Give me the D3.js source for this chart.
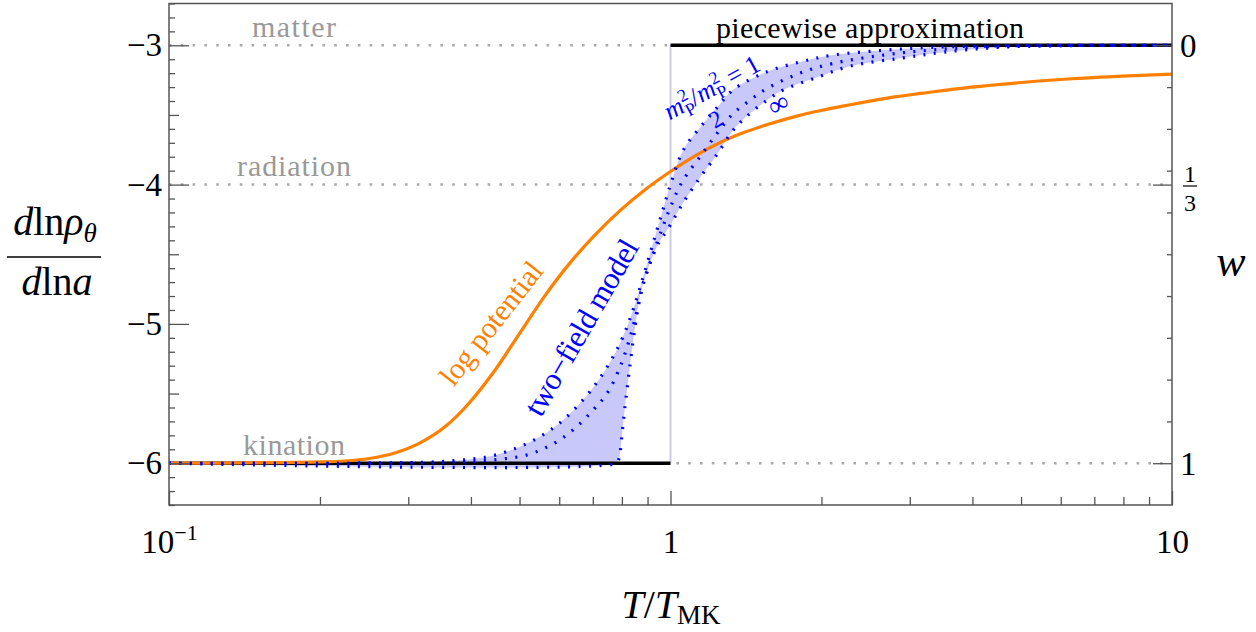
<!DOCTYPE html>
<html><head><meta charset="utf-8">
<script src="https://cdn.jsdelivr.net/npm/d3@7"></script>
</head><body style="margin:0;background:#fff">
<svg id="c" width="1256" height="632" style="display:block"></svg>
<script>
// ---------- data ----------
const refLevels = [-3, -4, -6];
const refNames  = ["matter", "radiation", "kination"];

const orangeT = [0.1, 0.126, 0.158, 0.2, 0.224, 0.251, 0.282, 0.316, 0.355, 0.398, 0.447, 0.501, 0.562, 0.631, 0.708, 0.794, 0.891, 1, 1.122, 1.259, 1.413, 1.585, 1.778, 1.995, 2.239, 2.512, 2.818, 3.162, 3.981, 5.012, 6.31, 7.943, 10];
const orangeV = [-6.0, -5.999, -5.996, -5.991, -5.984, -5.966, -5.927, -5.856, -5.739, -5.562, -5.331, -5.064, -4.797, -4.56, -4.359, -4.185, -4.035, -3.906, -3.792, -3.696, -3.621, -3.561, -3.51, -3.468, -3.432, -3.399, -3.369, -3.345, -3.3, -3.267, -3.24, -3.222, -3.207];

const m1T = [0.1, 0.3, 0.376, 0.437, 0.494, 0.549, 0.602, 0.66, 0.723, 0.793, 0.842, 0.882, 0.923, 0.966, 1.0, 1.06, 1.145, 1.24, 1.333, 1.557, 1.812, 2.11, 2.66, 3.3, 4.5, 6, 10];
const m1V = [-6, -5.996, -5.98, -5.95, -5.89, -5.81, -5.71, -5.57, -5.39, -5.14, -4.90, -4.665, -4.42, -4.18, -4.0, -3.754, -3.59, -3.445, -3.32, -3.19, -3.12, -3.07, -3.036, -3.015, -3.004, -3.0, -3.0];

const m2T = [0.1, 0.35, 0.43, 0.518, 0.584, 0.64, 0.70, 0.747, 0.793, 0.83, 0.858, 0.882, 0.923, 0.966, 1.0, 1.055, 1.145, 1.24, 1.333, 1.44, 1.557, 1.812, 2.11, 2.66, 3.3, 4.2, 5.5, 10];
const m2V = [-6, -5.995, -5.98, -5.94, -5.86, -5.76, -5.62, -5.50, -5.31, -5.10, -4.90, -4.72, -4.50, -4.30, -4.16, -3.98, -3.80, -3.63, -3.49, -3.395, -3.31, -3.20, -3.13, -3.07, -3.035, -3.012, -3.003, -3.0];

const mInfT = [0.1, 0.78, 0.787, 0.793, 0.80, 0.81, 0.83, 0.858, 0.877, 0.91, 0.95, 0.984, 1.06, 1.145, 1.24, 1.333, 1.44, 1.557, 1.68, 1.96, 2.28, 2.87, 3.5, 4.5, 6, 10];
const mInfV = [-6, -6, -5.98, -5.93, -5.80, -5.62, -5.30, -4.92, -4.74, -4.565, -4.41, -4.33, -4.13, -3.95, -3.78, -3.61, -3.49, -3.395, -3.32, -3.23, -3.15, -3.093, -3.05, -3.015, -3.003, -3.0];

const pieceT = [0.1, 1, 1, 10];
const pieceV = [-6, -6, -3, -3];

const xMajor = [0.1, 1, 10];
const xMinor = [0.2,0.3,0.4,0.5,0.6,0.7,0.8,0.9,2,3,4,5,6,7,8,9];
const yMajor = [-6, -5, -4, -3];
const wMajor = [0, 1/3, 1];
const wMinor = [0.1,0.2,0.3,0.4,0.5,0.6,0.7,0.8,0.9];

const FONT = '"Liberation Serif"';

// ---------- scales ----------
const L = 169, R = 1172, T0 = 3.5, B = 505;
const x = d3.scaleLog().domain([0.1, 10]).range([L, R]);
const y = d3.scaleLinear().domain([-6.3, -2.7]).range([B, T0]);
const yw = d3.scaleLinear().domain([1.1, -0.1]).range([B, T0]);

const svg = d3.select("#c");
const zip = (a, b) => a.map((t, i) => [t, b[i]]);
const cr = d3.curveCatmullRom.alpha(0.5);
const line = d3.line().x(d => x(d[0])).y(d => y(d[1])).curve(cr);
const lineM = d3.line().x(d => x(d[0])).y(d => y(d[1])).curve(d3.curveMonotoneX);

// ---------- reference dotted lines ----------
svg.append("g").selectAll("line").data(refLevels).join("line")
  .attr("x1", L).attr("x2", R).attr("y1", d => y(d)).attr("y2", d => y(d))
  .attr("stroke", "#aaa").attr("stroke-width", 2.5).attr("stroke-dasharray", "2.6,9.2");

// ---------- band ----------
const m1 = zip(m1T, m1V), m2 = zip(m2T, m2V), mInf = zip(mInfT, mInfV);
const poly = m1.concat(mInf.slice(0, -1).reverse());
svg.append("path").attr("d", line(poly) + "Z")
  .attr("fill", "rgb(200,200,250)").attr("stroke", "none");

// ---------- piecewise ----------
const piece = zip(pieceT, pieceV);
svg.append("line").attr("x1", x(piece[1][0])).attr("x2", x(piece[2][0]))
  .attr("y1", y(piece[1][1])).attr("y2", y(piece[2][1]))
  .attr("stroke", "#cdcde8").attr("stroke-width", 2);
[[piece[0], piece[1]], [piece[2], piece[3]]].forEach(s => {
  svg.append("line").attr("x1", x(s[0][0])).attr("x2", x(s[1][0]))
    .attr("y1", y(s[0][1])).attr("y2", y(s[1][1]))
    .attr("stroke", "#000").attr("stroke-width", 3.5);
});

// ---------- orange ----------
svg.append("path").attr("d", lineM(zip(orangeT, orangeV)))
  .attr("fill", "none").attr("stroke", "#ff8000").attr("stroke-width", 3.2);

// ---------- blue dotted ----------
[m1, m2, mInf].forEach(s => {
  svg.append("path").attr("d", line(s)).attr("fill", "none")
    .attr("stroke", "#0000ff").attr("stroke-width", 3.2)
    .attr("stroke-dasharray", "2,8.5");
});

// ---------- frame + axes ----------
const axStroke = "#555";
svg.append("rect").attr("x", L).attr("y", T0).attr("width", R - L).attr("height", B - T0)
  .attr("fill", "none").attr("stroke", axStroke).attr("stroke-width", 1.5);

function styleAxis(g) {
  g.attr("font-family", null).attr("font-size", null);
  g.select(".domain").remove();
  g.selectAll(".tick line").attr("stroke", axStroke).attr("stroke-width", 1.3);
  g.selectAll(".tick text").attr("fill", "#000");
}

// left
const yHalf = [-5.5, -4.5, -3.5];
const yMinor = d3.range(-63, -26).map(i => i / 10).filter(v => Math.abs(v * 2 - Math.round(v * 2)) > 1e-6);
svg.append("g").attr("transform", `translate(${L},0)`)
  .call(d3.axisLeft(y).tickValues(yMinor).tickSize(-6).tickFormat(""))
  .call(styleAxis);
svg.append("g").attr("transform", `translate(${L},0)`)
  .call(d3.axisLeft(y).tickValues(yHalf).tickSize(-10).tickFormat(""))
  .call(styleAxis);
svg.append("g").attr("transform", `translate(${L},0)`)
  .call(d3.axisLeft(y).tickValues(yMajor).tickSize(-20).tickPadding(7)
    .tickFormat(d => "\u2212" + Math.abs(d)))
  .call(styleAxis)
  .call(g => g.selectAll(".tick text").attr("font-size", 33));

// right (w)
svg.append("g").attr("transform", `translate(${R},0)`)
  .call(d3.axisRight(yw).tickValues(wMinor).tickSize(-5).tickFormat(""))
  .call(styleAxis);
svg.append("g").attr("transform", `translate(${R},0)`)
  .call(d3.axisRight(yw).tickValues(wMajor).tickSize(-19).tickFormat(""))
  .call(styleAxis);

// bottom
svg.append("g").attr("transform", `translate(0,${B})`)
  .call(d3.axisBottom(x).tickValues(xMinor).tickSize(-8).tickFormat(""))
  .call(styleAxis);
svg.append("g").attr("transform", `translate(0,${B})`)
  .call(d3.axisBottom(x).tickValues(xMajor).tickSize(-14).tickPadding(25)
    .tickFormat(d => d === 0.1 ? "" : String(d)))
  .call(styleAxis)
  .call(g => g.selectAll(".tick text").attr("font-size", 33).each(function(d) {
    if (d === 0.1) {
      const t = d3.select(this);
      t.append("tspan").text("10");
      t.append("tspan").attr("dy", -13).attr("font-size", 22).text("\u22121");
    }
  }));

// right tick labels
const rl = svg.append("g").attr("font-size", 33);
rl.append("text").attr("x", R + 8).attr("y", yw(0)).attr("dy", "0.35em").text("0");
rl.append("text").attr("x", R + 8).attr("y", yw(1)).attr("dy", "0.35em").text("1");
rl.append("text").attr("x", 1190).attr("y", 182).attr("font-size", 24).attr("text-anchor", "middle").text("1");
rl.append("line").attr("x1", 1183).attr("x2", 1197).attr("y1", 186).attr("y2", 186).attr("stroke", "#000").attr("stroke-width", 1.2);
rl.append("text").attr("x", 1190).attr("y", 211).attr("font-size", 24).attr("text-anchor", "middle").text("3");

// axis titles
svg.append("text").attr("x", 1231).attr("y", 263).attr("dy", "0.3em")
  .attr("text-anchor", "middle").attr("font-size", 44).attr("font-style", "italic").text("w");

const xt = svg.append("text").attr("x", 671).attr("y", 618).attr("text-anchor", "middle").attr("font-size", 40);
xt.append("tspan").attr("font-style", "italic").text("T");
xt.append("tspan").text("/");
xt.append("tspan").attr("font-style", "italic").text("T");
xt.append("tspan").attr("font-size", 27).attr("dy", 6).text("MK");

const num = svg.append("text").attr("x", 55).attr("y", 235).attr("text-anchor", "middle").attr("font-size", 40);
num.append("tspan").attr("font-style", "italic").text("d");
num.append("tspan").text("ln");
num.append("tspan").attr("font-style", "italic").text("\u03C1");
num.append("tspan").attr("font-style", "italic").attr("font-size", 27).attr("dy", 7).text("\u03B8");
svg.append("line").attr("x1", 7).attr("x2", 101).attr("y1", 257).attr("y2", 257).attr("stroke", "#000").attr("stroke-width", 1.5);
const den = svg.append("text").attr("x", 57).attr("y", 295).attr("text-anchor", "middle").attr("font-size", 40);
den.append("tspan").attr("font-style", "italic").text("d");
den.append("tspan").text("ln");
den.append("tspan").attr("font-style", "italic").text("a");

// reference labels
const refX = [294, 294, 294], refY = [37, 176, 455], refW = [84, 114, 102];
svg.append("g").selectAll("text").data(refNames).join("text")
  .attr("x", (d, i) => refX[i]).attr("y", (d, i) => refY[i])
  .attr("text-anchor", "middle").attr("font-size", 30).attr("fill", "#999")
  .attr("textLength", (d, i) => refW[i]).attr("lengthAdjust", "spacing")
  .text(d => d);

svg.append("text").attr("x", 870).attr("y", 38).attr("text-anchor", "middle")
  .attr("font-size", 30).attr("textLength", 308).attr("lengthAdjust", "spacing")
  .text("piecewise approximation");

// curve labels
svg.append("text").attr("transform", "translate(492,324) rotate(-52)")
  .attr("text-anchor", "middle").attr("dy", "0.3em").attr("font-size", 30).attr("fill", "#ff8000")
  .attr("textLength", 148).attr("lengthAdjust", "spacing").text("log potential");

svg.append("text").attr("transform", "translate(581,327) rotate(-60)")
  .attr("text-anchor", "middle").attr("dy", "0.35em").attr("font-size", 31).attr("fill", "#0000ff")
  .attr("textLength", 198).attr("lengthAdjust", "spacing").text("two\u2212field model");

const ml = svg.append("text").attr("transform", "translate(716,95) rotate(-29)")
  .attr("text-anchor", "middle").attr("font-size", 26).attr("fill", "#0000ff");
ml.append("tspan").attr("font-style", "italic").text("m");
ml.append("tspan").attr("font-size", 18).attr("dy", -10).text("2");
ml.append("tspan").attr("font-size", 18).attr("dx", -9).attr("dy", 16).text("P");
ml.append("tspan").attr("dy", -6).text("/");
ml.append("tspan").attr("font-style", "italic").text("m");
ml.append("tspan").attr("font-size", 18).attr("dy", -10).text("2");
ml.append("tspan").attr("font-size", 18).attr("dx", -9).attr("dy", 16).text("P");
ml.append("tspan").attr("dy", -6).text(" = 1");

svg.append("text").attr("transform", "translate(720,126) rotate(-30)")
  .attr("text-anchor", "middle").attr("font-size", 24).attr("fill", "#0000ff").text("2");
svg.append("text").attr("transform", "translate(783,112) rotate(-30)")
  .attr("text-anchor", "middle").attr("font-size", 28).attr("fill", "#0000ff").text("\u221E");

// serif face on every text node
svg.selectAll("text, tspan").style("font-family", FONT);
</script>
</body></html>
